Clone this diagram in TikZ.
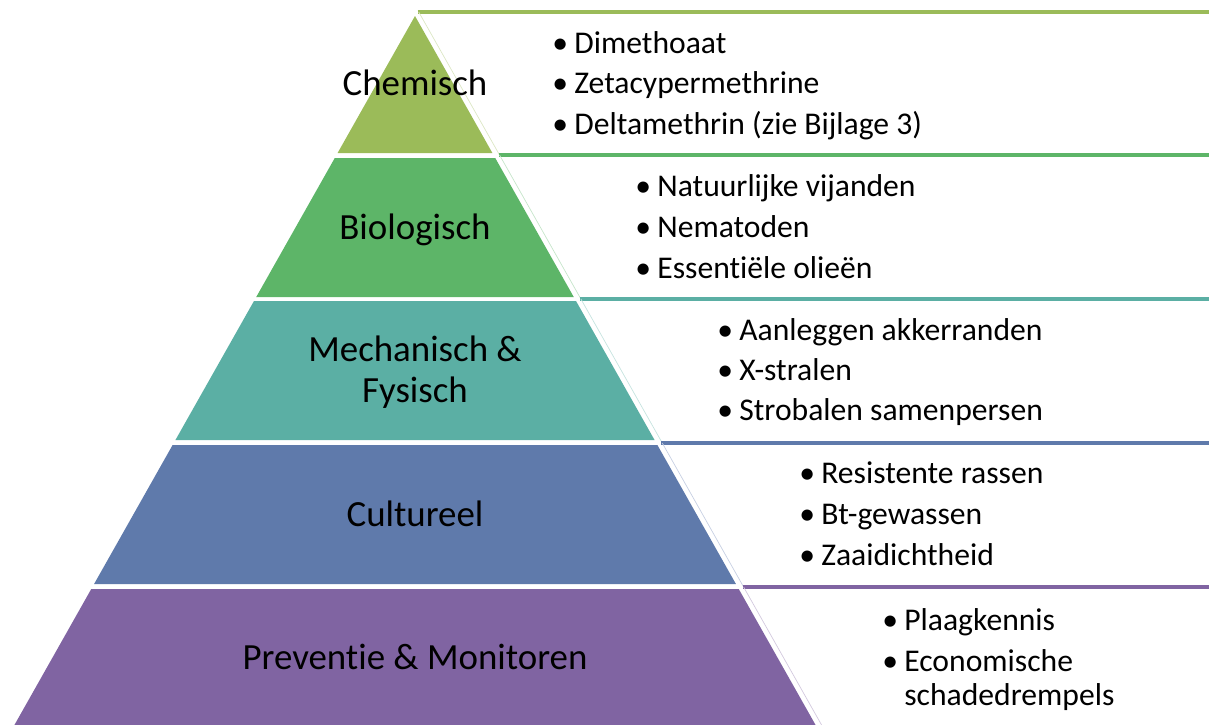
\documentclass[tikz,border=0pt]{standalone}
\usepackage{fontspec}
\setmainfont{Carlito}[Ligatures={NoCommon}]
\usetikzlibrary{positioning}

\definecolor{chemkleur}{HTML}{9BBB59}
\definecolor{biokleur}{HTML}{5DB568}
\definecolor{mechkleur}{HTML}{5BAFA4}
\definecolor{cultkleur}{HTML}{5F7AAB}
\definecolor{prevkleur}{HTML}{8064A2}

\newcommand{\bol}{\makebox[0.44cm][l]{•}}

\tikzset{
  laag/.style={font=\fontsize{21}{23.3}\selectfont, align=center, inner sep=0pt},
  punt/.style={font=\fontsize{18}{23.3}\selectfont, anchor=base west, inner sep=0pt}
}

\begin{document}
\begin{tikzpicture}[x=0.02cm,y=-0.02cm]
  \useasboundingbox (0,0) rectangle (1209,724);

  % ---------- piramide ----------
  \foreach \t/\b/\c in {16/153/chemkleur, 158/297/biokleur, 301/440/mechkleur,
                        445/584/cultkleur, 589/730/prevkleur}
    \fill[\c] ({415-0.565*(\t-16)},\t) -- ({415+0.565*(\t-16)},\t)
      -- ({415+0.565*(\b-16)},\b) -- ({415-0.565*(\b-16)},\b) -- cycle;

  % ---------- tekstvakken: lijn boven + schuine rand ----------
  \foreach \y/\n/\c in {12/155/chemkleur, 155/299/biokleur, 299/443/mechkleur,
                        443/587/cultkleur, 587/730/prevkleur} {
    \draw[\c, line width=0.08cm] ({415+0.565*(\y-16)+5},\y) -- (1209,\y);
    \draw[\c!35, line width=0.4pt] ({415+0.565*(\y-16)+6},\y) -- ({415+0.565*(\n-16)+6},\n);
  }

  % ---------- namen van de lagen ----------
  \node[laag, anchor=base] (chem) at (415,95) {Chemisch};
  \node[laag, anchor=base] (bio) at (415,239) {Biologisch};
  \node[laag] (mech) at (415,372) {Mechanisch \&\\Fysisch};
  \node[laag, anchor=base] (cult) at (415,526) {Cultureel};
  \node[laag, anchor=base] (prev) at (415,669) {Preventie \& Monitoren};

  % ---------- maatregelen ----------
  \node[punt] (chemA) at (552,53) {\bol Dimethoaat};
  \node[punt] (chemB) at (552,93) {\bol Zetacypermethrine};
  \node[punt] (chemC) at (552,134) {\bol Deltamethrin (zie Bijlage 3)};

  \node[punt] (bioA) at (635,196) {\bol Natuurlijke vijanden};
  \node[punt] (bioB) at (635,237) {\bol Nematoden};
  \node[punt] (bioC) at (635,278) {\bol Essentiële olieën};

  \node[punt] (mechA) at (717,340) {\bol Aanleggen akkerranden};
  \node[punt] (mechB) at (717,380) {\bol X-stralen};
  \node[punt] (mechC) at (717,420) {\bol Strobalen samenpersen};

  \node[punt] (cultA) at (799,483) {\bol Resistente rassen};
  \node[punt] (cultB) at (799,524) {\bol Bt-gewassen};
  \node[punt] (cultC) at (799,565) {\bol Zaaidichtheid};

  \node[punt] (prevA) at (882,630) {\bol Plaagkennis};
  \node[punt] (prevB) at (882,671) {\bol Economische};
  \node[punt] (prevC) at (882,705) {\hspace{0.44cm}schadedrempels};

\end{tikzpicture}
\end{document}
